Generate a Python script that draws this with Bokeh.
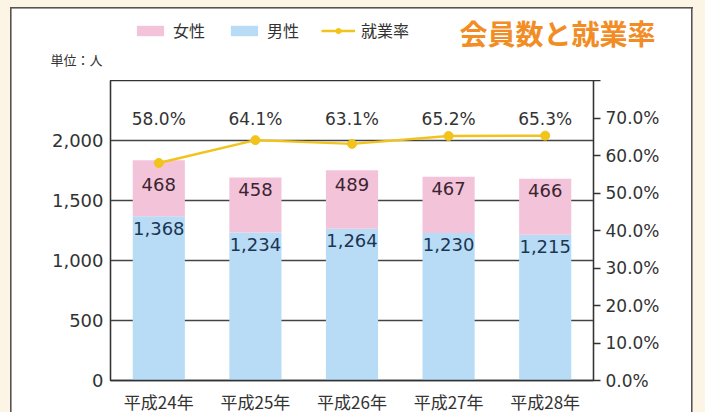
from bokeh.plotting import figure
from bokeh.models import (ColumnDataSource, Range1d, LinearAxis, FixedTicker,
                          CustomJSTickFormatter, Legend, LegendItem, FactorRange)
from bokeh.layouts import column
from bokeh.embed import file_html
from bokeh.resources import INLINE
from bokeh.core.properties import value

# ---- data ----
years = ["平成24年", "平成25年", "平成26年", "平成27年", "平成28年"]
male = [1368, 1234, 1264, 1230, 1215]
female = [468, 458, 489, 467, 466]
rate = [58.0, 64.1, 63.1, 65.2, 65.3]
left_ticks = [0, 500, 1000, 1500, 2000, 2500]
right_ticks = [0, 10, 20, 30, 40, 50, 60, 70, 80]
series_names = ["女性", "男性", "就業率"]
title_text = "会員数と就業率"
unit_text = "単位：人"

PINK = "#f3c3da"
BLUE = "#b8dcf6"
YELLOW = "#f2c31a"
DARK = "#333333"
CREAM = "#fcf4e4"
FRAME = "#5a5252"
JP = "Noto Sans CJK JP"
NUM = "DejaVu Sans"

W = 705

total = [m + f for m, f in zip(male, female)]
src = ColumnDataSource(dict(
    years=years, male=male, female=female, total=total, rate=rate,
    male_lbl=[f"{v:,}" for v in male],
    female_lbl=[str(v) for v in female],
    rate_lbl=[f"{r:.1f}%" for r in rate],
    male_y=[m - 100 for m in male],
    female_y=[min(t - 100, 1630) for t in total],
    rate_y=[2180] * len(years),
))

# ---------------- header (legend, title, unit) ----------------
hp = figure(width=W, height=80, x_range=Range1d(0, W), y_range=Range1d(80, 0),
            min_border_left=0, min_border_right=0, min_border_top=0, min_border_bottom=0,
            output_backend="svg", toolbar_location=None,
            background_fill_color=None, border_fill_color=None, outline_line_color=None)
hp.frame_align = False
hp.axis.visible = False
hp.grid.visible = False

# legend-only proxies (placed off the visible range)
d_f = hp.vbar(x=[-1000], top=[-1000], bottom=[-1001], width=1, fill_color=PINK, line_color=None)
d_m = hp.vbar(x=[-1000], top=[-1000], bottom=[-1001], width=1, fill_color=BLUE, line_color=None)
d_l = hp.line(x=[-1000, -999], y=[-1000, -1000], line_color=YELLOW, line_width=2.5)
d_s = hp.scatter(x=[-1000], y=[-1000], size=9, fill_color=YELLOW, line_color=YELLOW)

legend = Legend(items=[
    LegendItem(label=series_names[0], renderers=[d_f]),
    LegendItem(label=series_names[1], renderers=[d_m]),
    LegendItem(label=series_names[2], renderers=[d_l, d_s]),
], orientation="horizontal", location=(133, 38),
    glyph_width=34, glyph_height=13, label_standoff=6, spacing=22,
    padding=0, margin=0, border_line_color=None, background_fill_alpha=0,
    label_text_font=JP, label_text_font_size="16px", label_text_color=DARK)
hp.add_layout(legend)

hp.text(x=[557], y=[32], text=[title_text], text_align="center", text_baseline="middle",
        text_font=value(JP), text_font_size="28px", text_font_style="bold",
        text_color="#f28c24")
hp.text(x=[76], y=[59], text=[unit_text], text_align="center", text_baseline="middle",
        text_font=value(JP), text_font_size="13px", text_color=DARK)

# ---------------- main chart ----------------
p = figure(x_range=FactorRange(factors=years), y_range=Range1d(0, 2500),
           width=W, height=340,
           min_border_left=110, min_border_right=112, min_border_top=0, min_border_bottom=40,
           output_backend="svg", toolbar_location=None,
           background_fill_color="white", border_fill_color=None,
           outline_line_color=DARK, outline_line_width=1.3)
p.frame_align = False

p.extra_y_ranges = {"pct": Range1d(0, 80)}

p.vbar(x="years", bottom=0, top="male", width=0.54, source=src,
       fill_color=BLUE, line_color=None)
p.vbar(x="years", bottom="male", top="total", width=0.54, source=src,
       fill_color=PINK, line_color=None)

p.line(x="years", y="rate", y_range_name="pct", source=src,
       line_color=YELLOW, line_width=2.5)
p.scatter(x="years", y="rate", y_range_name="pct", source=src,
          size=9, fill_color=YELLOW, line_color=YELLOW)

p.text(x="years", y="male_y", text="male_lbl", source=src, text_align="center",
       text_baseline="middle", text_font=value(NUM), text_font_size="18px",
       text_color="#1c3552")
p.text(x="years", y="female_y", text="female_lbl", source=src, text_align="center",
       text_baseline="middle", text_font=value(NUM), text_font_size="18px",
       text_color="#3b2530")
p.text(x="years", y="rate_y", text="rate_lbl", source=src, text_align="center",
       text_baseline="middle", text_font=value(NUM), text_font_size="17px",
       text_color=DARK)

p.xgrid.visible = False
p.ygrid.ticker = FixedTicker(ticks=left_ticks[1:])
p.ygrid.grid_line_color = "#444444"
p.ygrid.grid_line_width = 1.3

p.yaxis.ticker = FixedTicker(ticks=left_ticks)
p.yaxis.formatter = CustomJSTickFormatter(
    code="return tick >= 2500 ? '' : tick.toLocaleString('en-US');")
p.yaxis.major_tick_out = 0
p.yaxis.major_tick_in = 0
p.yaxis.minor_tick_out = 0
p.yaxis.minor_tick_in = 0
p.yaxis.major_label_standoff = 7
p.yaxis.axis_line_color = DARK
p.yaxis.axis_line_width = 1.3
p.yaxis.major_label_text_font = NUM
p.yaxis.major_label_text_font_size = "18px"
p.yaxis.major_label_text_color = DARK

p.xaxis.major_tick_out = 0
p.xaxis.major_tick_in = 0
p.xaxis.major_label_standoff = 8
p.xaxis.axis_line_color = DARK
p.xaxis.axis_line_width = 1.3
p.xaxis.major_label_text_font = JP
p.xaxis.major_label_text_font_size = "17px"
p.xaxis.major_label_text_color = DARK

ra = LinearAxis(y_range_name="pct", ticker=FixedTicker(ticks=right_ticks),
                formatter=CustomJSTickFormatter(
                    code="return tick >= 80 ? '' : tick.toFixed(1) + '%';"))
ra.major_tick_out = 7
ra.major_tick_in = 0
ra.minor_tick_out = 0
ra.minor_tick_in = 0
ra.major_tick_line_color = DARK
ra.major_tick_line_width = 1.3
ra.major_label_standoff = 5
ra.axis_line_color = DARK
ra.axis_line_width = 1.3
ra.major_label_text_font = NUM
ra.major_label_text_font_size = "17px"
ra.major_label_text_color = DARK
p.add_layout(ra, "right")

bg = (f"linear-gradient({FRAME},{FRAME}) 10px 7px / 683px 1.6px no-repeat, "
      f"linear-gradient({FRAME},{FRAME}) 10px 7px / 1.6px 430px no-repeat, "
      f"linear-gradient({FRAME},{FRAME}) 691px 7px / 1.6px 430px no-repeat, "
      f"linear-gradient(#ffffff,#ffffff) 10px 7px / 683px 430px no-repeat, "
      f"{CREAM}")
layout = column(hp, p, width=W, height=412, spacing=0,
                styles={"background": bg, "overflow": "hidden"})

open("out.html", "w").write(file_html(layout, INLINE))
